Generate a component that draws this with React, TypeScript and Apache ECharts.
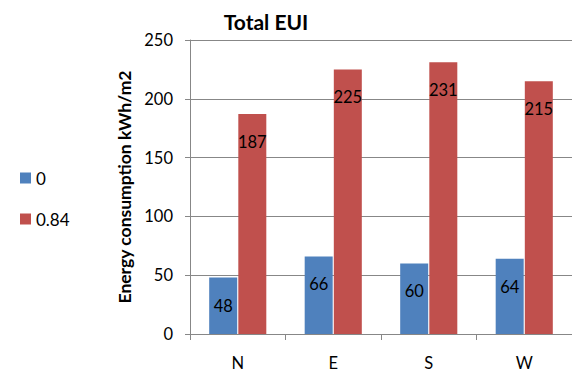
import React, { useEffect, useRef } from "react";
import * as echarts from "echarts";

// Orientation categories and annual energy use intensity (kWh/m2) per case
const categories = ["N", "E", "S", "W"];
const seriesNames = ["0", "0.84"];
const euiCase0 = [48, 66, 60, 64];
const euiCase084 = [187, 225, 231, 215];
const yTicks = { min: 0, max: 250, interval: 50 };

const FONT = "Lato, 'Open Sans', sans-serif";
const GRAY = "#878787";

export default function App() {
  const ref = useRef<HTMLDivElement>(null);

  useEffect(() => {
    if (!ref.current) return;
    const chart = echarts.init(ref.current, undefined, { renderer: "svg" });
    const barLabel = {
      show: true,
      position: "insideTop" as const,
      distance: 20,
      color: "#000",
      fontFamily: FONT,
      fontSize: 16.5,
      lineHeight: 16,
    };
    chart.setOption({
      animation: false,
      backgroundColor: "#fff",
      textStyle: { fontFamily: FONT },
      title: {
        text: "Total EUI",
        left: 261,
        top: 6,
        textAlign: "center",
        textStyle: { fontFamily: FONT, fontSize: 21, fontWeight: "bold", color: "#000" },
      },
      legend: {
        orient: "vertical",
        left: 15,
        top: 162,
        itemWidth: 11,
        itemHeight: 11,
        itemGap: 19,
        icon: "rect",
        textStyle: {
          fontFamily: FONT,
          fontSize: 17,
          lineHeight: 17,
          color: "#000",
          padding: [5, 0, 0, 0],
        },
        data: seriesNames,
      },
      grid: { left: 190, right: -4, top: 40, bottom: 38, containLabel: false },
      xAxis: {
        type: "category",
        data: categories,
        axisLine: { lineStyle: { color: GRAY, width: 1 } },
        axisTick: { show: true, length: 6, lineStyle: { color: GRAY } },
        axisLabel: { color: "#000", fontFamily: FONT, fontSize: 16.5, margin: 20 },
      },
      yAxis: {
        type: "value",
        min: yTicks.min,
        max: yTicks.max,
        interval: yTicks.interval,
        name: "Energy consumption kWh/m2",
        nameLocation: "middle",
        nameGap: 49,
        nameTextStyle: { fontFamily: FONT, fontSize: 17.5, fontWeight: "bold", color: "#000" },
        axisLine: { show: true, lineStyle: { color: GRAY, width: 1 } },
        axisTick: { show: true, length: 5, lineStyle: { color: GRAY } },
        axisLabel: { color: "#000", fontFamily: FONT, fontSize: 16.5, margin: 17 },
        splitLine: { lineStyle: { color: GRAY, width: 1 } },
      },
      series: [
        {
          name: seriesNames[0],
          type: "bar",
          data: euiCase0,
          barWidth: 28,
          barGap: "4%",
          itemStyle: { color: "#4F81BD" },
          label: barLabel,
        },
        {
          name: seriesNames[1],
          type: "bar",
          data: euiCase084,
          barWidth: 28,
          barGap: "4%",
          itemStyle: { color: "#C0504D" },
          label: barLabel,
        },
      ],
    });
    return () => chart.dispose();
  }, []);

  return (
    <div
      ref={ref}
      style={{ position: "absolute", left: 0, top: 0, width: 572, height: 372 }}
    />
  );
}
